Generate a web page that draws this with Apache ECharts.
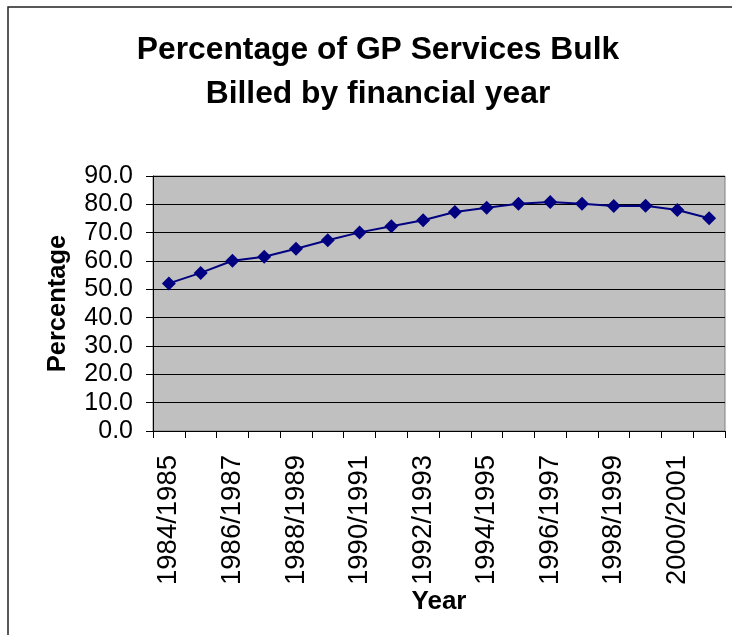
<!DOCTYPE html>
<html>
<head>
<meta charset="utf-8">
<script src="https://cdn.jsdelivr.net/npm/echarts@6/dist/echarts.min.js"></script>
<style>
html,body{margin:0;padding:0;background:#fff;}
#chart{width:732px;height:635px;}
</style>
</head>
<body>
<div id="chart"></div>
<script>
const categories = ["1984/1985","1985/1986","1986/1987","1987/1988","1988/1989","1989/1990","1990/1991","1991/1992","1992/1993","1993/1994","1994/1995","1995/1996","1996/1997","1997/1998","1998/1999","1999/2000","2000/2001","2001/2002"];
const percentages = [52.1, 55.8, 60.1, 61.5, 64.3, 67.3, 70.1, 72.3, 74.4, 77.3, 78.8, 80.2, 80.8, 80.2, 79.4, 79.5, 78.0, 75.1];
const titleLines = ["Percentage of GP Services Bulk", "Billed by financial year"];
const yAxisName = "Percentage";
const xAxisName = "Year";

const FONT = "'Liberation Sans', Arial, sans-serif";
const chart = echarts.init(document.getElementById('chart'));
chart.setOption({
  backgroundColor: '#ffffff',
  animation: false,
  graphic: [{
    type: 'rect',
    shape: { x: 8, y: 7, width: 760, height: 660 },
    style: { fill: 'none', stroke: '#222', lineWidth: 1.5 },
    silent: true
  }],
  title: {
    text: titleLines.join('\n'),
    left: 373,
    top: 23,
    textAlign: 'center',
    textStyle: { fontFamily: FONT, fontSize: 31.8, fontWeight: 'bold', color: '#000', lineHeight: 44 }
  },
  grid: {
    left: 153, right: 7, top: 176, bottom: 204,
    show: true, backgroundColor: '#C0C0C0', borderColor: '#808080', borderWidth: 1
  },
  xAxis: {
    type: 'category',
    data: categories,
    boundaryGap: true,
    name: xAxisName,
    nameLocation: 'middle',
    nameGap: 148,
    nameTextStyle: { fontFamily: FONT, fontSize: 26, fontWeight: 'bold', color: '#000' },
    axisLine: { show: true, lineStyle: { color: '#000', width: 1 } },
    axisTick: { show: true, interval: 0, length: 7, lineStyle: { color: '#000' } },
    axisLabel: { interval: 1, rotate: 90, margin: 24, fontFamily: FONT, fontSize: 27.5, color: '#000' },
    splitLine: { show: false }
  },
  yAxis: {
    type: 'value',
    min: 0, max: 90, interval: 10,
    name: yAxisName,
    nameLocation: 'middle',
    nameGap: 82,
    nameRotate: 90,
    nameTextStyle: { fontFamily: FONT, fontSize: 25.5, fontWeight: 'bold', color: '#000' },
    axisLine: { show: true, lineStyle: { color: '#000', width: 1 } },
    axisTick: { show: true, length: 7, lineStyle: { color: '#000' } },
    axisLabel: { margin: 20, fontFamily: FONT, fontSize: 25, color: '#000', formatter: v => v.toFixed(1) },
    splitLine: { show: true, lineStyle: { color: '#000', width: 1 } }
  },
  series: [{
    type: 'line',
    data: percentages,
    symbol: 'diamond',
    symbolSize: 14,
    lineStyle: { color: '#000080', width: 2 },
    itemStyle: { color: '#000080' }
  }]
});
</script>
</body>
</html>
